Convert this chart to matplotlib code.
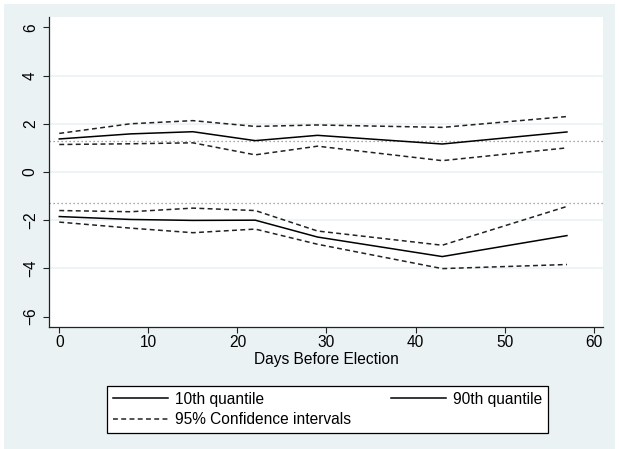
import numpy as np
import matplotlib.pyplot as plt
from matplotlib.patches import Rectangle

plt.rcParams['font.family'] = ['Liberation Sans', 'DejaVu Sans']

# dias antes de la eleccion
days = [0, 8, 15, 22, 29, 43, 57]

# cuantil 10 (grupo de arriba)
q10 = [1.37, 1.58, 1.67, 1.30, 1.52, 1.16, 1.66]
q10_hi = [1.60, 2.00, 2.13, 1.89, 1.95, 1.85, 2.30]
q10_lo = [1.14, 1.17, 1.21, 0.71, 1.07, 0.47, 1.00]

# cuantil 90 (grupo de abajo)
q90 = [-1.85, -1.97, -2.01, -2.00, -2.70, -3.51, -2.64]
q90_hi = [-1.60, -1.65, -1.50, -1.60, -2.45, -3.04, -1.43]
q90_lo = [-2.08, -2.33, -2.52, -2.37, -3.00, -4.01, -3.84]

ref_lines = [1.28, -1.28]
yticks = [-6, -4, -2, 0, 2, 4, 6]
xticks = [0, 10, 20, 30, 40, 50, 60]

bg = '#EAF2F3'
fs = 11.2

fig = plt.figure(figsize=(6.19, 4.49), dpi=100)
fig.patch.set_facecolor('white')
fig.patches.append(Rectangle((4 / 619, 0), 1 - 8 / 619, 1 - 4 / 449,
                             transform=fig.transFigure, facecolor=bg,
                             edgecolor='none', zorder=-10))

ax = fig.add_axes([49.3 / 619, 122.3 / 449, (603 - 49.3) / 619, (326.7 - 17) / 449])
ax.set_facecolor('white')

for t in yticks[1:-1]:
    ax.axhline(t, color=bg, lw=1.2, zorder=0)
for r in ref_lines:
    ax.axhline(r, color='#8a8a8a', lw=0.9, ls=(0, (1, 2.2)), zorder=1)

dash = (0, (3.2, 2.2))
l10, = ax.plot(days, q10, color='black', lw=1.1, label='10th quantile')
l90, = ax.plot(days, q90, color='black', lw=1.1, label='90th quantile')
lci, = ax.plot(days, q10_hi, color='#222222', lw=1.1, ls=dash, label='95% Confidence intervals')
for s in (q10_lo, q90_hi, q90_lo):
    ax.plot(days, s, color='#222222', lw=1.1, ls=dash)

ax.set_xlim(-1.12, 61.05)
ax.set_ylim(-6.42, 6.43)
ax.set_xticks(xticks)
ax.set_yticks(yticks)
ax.set_yticklabels([str(t).replace('-', '\u2212') for t in yticks], rotation=90, va='center')
ax.tick_params(axis='both', labelsize=fs, length=4.3, width=0.8, color='#222222')
ax.tick_params(axis='y', pad=4)
ax.tick_params(axis='x', pad=2)
for side in ('top', 'right'):
    ax.spines[side].set_visible(False)
for side in ('left', 'bottom'):
    ax.spines[side].set_linewidth(0.9)
    ax.spines[side].set_color('#222222')

ax.set_xlabel('Days Before Election', fontsize=fs, labelpad=1)

leg = fig.legend([l10, lci, l90], ['10th quantile', '95% Confidence intervals', '90th quantile'],
                 ncol=2, loc='center', bbox_to_anchor=(327.5 / 619, 39.5 / 449),
                 fontsize=fs, frameon=True, fancybox=False, edgecolor='black',
                 framealpha=1, handlelength=3.5, handletextpad=0.45, columnspacing=2.6,
                 borderpad=0.4, labelspacing=0.35)
leg.get_frame().set_linewidth(0.9)

fig.savefig('out.png', dpi=100, facecolor=fig.get_facecolor())
